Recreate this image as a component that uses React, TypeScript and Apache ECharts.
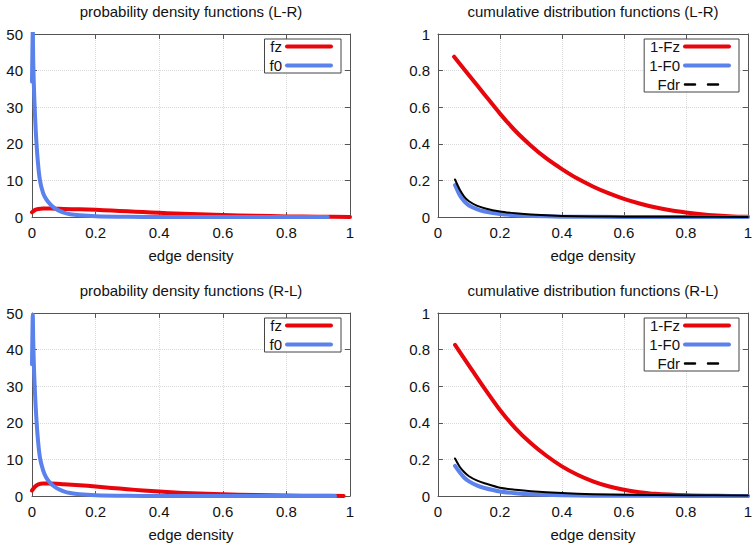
import React, { useEffect, useRef } from "react";
import * as echarts from "echarts";

// ---------- data ----------
const panelTitles = [
  "probability density functions (L-R)",
  "cumulative distribution functions (L-R)",
  "probability density functions (R-L)",
  "cumulative distribution functions (R-L)",
];
const xAxisName = "edge density";

// pdf (L-R)
const pdfLR_fz: number[][] = [
  [0, 1.3], [0.01, 1.95], [0.02, 2.2], [0.035, 2.3], [0.06, 2.3], [0.1, 2.2], [0.15, 2.1],
  [0.2, 1.95], [0.25, 1.75], [0.3, 1.55], [0.35, 1.35], [0.4, 1.15], [0.45, 0.95], [0.5, 0.8],
  [0.6, 0.52], [0.7, 0.32], [0.8, 0.17], [0.9, 0.07], [1.0, 0.02],
];
const pdfLR_f0: number[][] = [
  [0, 37], [0.0025, 51], [0.004, 42], [0.007, 33], [0.0115, 24], [0.018, 15.5], [0.025, 10],
  [0.035, 6.5], [0.045, 4.8], [0.057, 3.5], [0.07, 2.5], [0.083, 1.8], [0.1, 1.2], [0.12, 0.75],
  [0.15, 0.45], [0.2, 0.2], [0.3, 0.06], [0.4, 0.02], [0.6, 0.005], [0.93, 0],
];
// pdf (R-L)
const pdfRL_fz: number[][] = [
  [0, 1.5], [0.01, 2.6], [0.02, 3.2], [0.035, 3.4], [0.06, 3.4], [0.1, 3.2], [0.15, 2.95],
  [0.2, 2.6], [0.25, 2.2], [0.3, 1.85], [0.35, 1.5], [0.4, 1.2], [0.45, 0.95], [0.5, 0.75],
  [0.6, 0.45], [0.7, 0.27], [0.8, 0.14], [0.9, 0.06], [0.98, 0.02],
];
const pdfRL_f0: number[][] = [
  [0, 36], [0.0025, 49.5], [0.004, 42], [0.007, 33], [0.0115, 24.5], [0.018, 16], [0.025, 10.5],
  [0.035, 7], [0.045, 5], [0.057, 3.6], [0.07, 2.6], [0.083, 1.9], [0.1, 1.25], [0.12, 0.8],
  [0.15, 0.45], [0.2, 0.2], [0.3, 0.06], [0.4, 0.02], [0.6, 0.005], [0.953, 0],
];
// cdf (L-R)
const cdfLR_Fz: number[][] = [
  [0.052, 0.876], [0.1, 0.775], [0.15, 0.67], [0.2, 0.565], [0.25, 0.47], [0.3, 0.39],
  [0.35, 0.32], [0.4, 0.262], [0.45, 0.21], [0.5, 0.167], [0.55, 0.13], [0.6, 0.099],
  [0.65, 0.074], [0.7, 0.053], [0.75, 0.037], [0.8, 0.025], [0.85, 0.015], [0.9, 0.008],
  [0.95, 0.003], [1.0, 0.001],
];
const cdfLR_F0: number[][] = [
  [0.055, 0.175], [0.07, 0.12], [0.085, 0.085], [0.1, 0.063], [0.125, 0.043], [0.15, 0.03],
  [0.2, 0.017], [0.25, 0.01], [0.3, 0.006], [0.4, 0.002], [0.5, 0.001], [0.7, 0], [1.0, 0],
];
const cdfLR_Fdr: number[][] = [
  [0.055, 0.205], [0.07, 0.15], [0.085, 0.11], [0.1, 0.086], [0.125, 0.062], [0.15, 0.048],
  [0.2, 0.03], [0.25, 0.02], [0.3, 0.013], [0.4, 0.006], [0.5, 0.003], [0.6, 0.002],
  [0.8, 0.001], [1.0, 0.0005],
];
// cdf (R-L)
const cdfRL_Fz: number[][] = [
  [0.055, 0.826], [0.1, 0.713], [0.15, 0.588], [0.2, 0.47], [0.25, 0.37], [0.3, 0.288],
  [0.35, 0.22], [0.4, 0.162], [0.45, 0.116], [0.5, 0.08], [0.55, 0.053], [0.6, 0.034],
  [0.65, 0.021], [0.7, 0.012], [0.8, 0.004], [0.9, 0.001], [1.0, 0],
];
const cdfRL_F0: number[][] = [
  [0.055, 0.165], [0.07, 0.13], [0.085, 0.1], [0.1, 0.08], [0.125, 0.058], [0.15, 0.044],
  [0.2, 0.025], [0.25, 0.015], [0.3, 0.009], [0.4, 0.004], [0.5, 0.002], [0.7, 0.001], [1.0, 0],
];
const cdfRL_Fdr: number[][] = [
  [0.055, 0.205], [0.07, 0.16], [0.085, 0.13], [0.1, 0.108], [0.125, 0.085], [0.15, 0.07],
  [0.2, 0.045], [0.25, 0.034], [0.3, 0.026], [0.4, 0.016], [0.5, 0.01], [0.6, 0.007],
  [0.8, 0.004], [1.0, 0.003],
];

// ---------- styling ----------
const FONT = "Liberation Sans, Arial, Helvetica, sans-serif";
const RED = "#e8060c";
const BLUE = "#5b82ec";
const BLACK = "#000000";
const AXIS = "#555555";
const TXT = "#111111";
const GRIDLINE = "#d9d9d9";

const grids = [
  { left: 32, top: 34, width: 318, height: 183 },
  { left: 438, top: 34, width: 310, height: 183 },
  { left: 32, top: 313, width: 318, height: 183 },
  { left: 438, top: 313, width: 310, height: 183 },
];
const yRanges = [
  { max: 50, interval: 10, margin: 9 },
  { max: 1, interval: 0.2, margin: 8 },
  { max: 50, interval: 10, margin: 9 },
  { max: 1, interval: 0.2, margin: 8 },
];

function buildOption() {
  const xAxis: any[] = [];
  const yAxis: any[] = [];
  const axisLine = { show: true, onZero: false, lineStyle: { color: AXIS, width: 1 } };
  const axisTick = { show: true, inside: true, length: 5, lineStyle: { color: AXIS, width: 1 } };
  grids.forEach((g, i) => {
    xAxis.push(
      {
        type: "value", gridIndex: i, min: 0, max: 1, interval: 0.2, position: "bottom",
        axisLine, axisTick,
        axisLabel: { fontSize: 15, color: TXT, margin: 8, fontFamily: FONT },
        splitLine: { show: true, lineStyle: { color: GRIDLINE, type: "dotted", width: 1 } },
        name: xAxisName, nameLocation: "middle", nameGap: 31,
        nameTextStyle: { fontSize: 15, color: TXT, fontFamily: FONT },
      },
      {
        type: "value", gridIndex: i, min: 0, max: 1, interval: 0.2, position: "top",
        axisLine, axisTick, axisLabel: { show: false }, splitLine: { show: false },
      }
    );
    const r = yRanges[i];
    yAxis.push(
      {
        type: "value", gridIndex: i, min: 0, max: r.max, interval: r.interval, position: "left",
        axisLine, axisTick,
        axisLabel: { fontSize: 15, color: TXT, margin: r.margin, fontFamily: FONT },
        splitLine: { show: true, lineStyle: { color: GRIDLINE, type: "dotted", width: 1 } },
      },
      {
        type: "value", gridIndex: i, min: 0, max: r.max, interval: r.interval, position: "right",
        axisLine, axisTick, axisLabel: { show: false }, splitLine: { show: false },
      }
    );
  });

  const line = (name: string, data: number[][], panel: number, color: string, width: number, z: number) => ({
    type: "line", name, data, xAxisIndex: panel * 2, yAxisIndex: panel * 2,
    symbol: "none", showSymbol: false, smooth: 0.25, clip: true,
    lineStyle: { color, width, cap: "round", join: "round" }, itemStyle: { color }, z,
  });

  const series = [
    line("fz", pdfLR_fz, 0, RED, 4, 2),
    line("f0", pdfLR_f0, 0, BLUE, 4, 3),
    line("1-Fz", cdfLR_Fz, 1, RED, 4, 2),
    line("1-F0", cdfLR_F0, 1, BLUE, 4, 3),
    line("Fdr", cdfLR_Fdr, 1, BLACK, 2, 4),
    line("fz", pdfRL_fz, 2, RED, 4, 2),
    line("f0", pdfRL_f0, 2, BLUE, 4, 3),
    line("1-Fz", cdfRL_Fz, 3, RED, 4, 2),
    line("1-F0", cdfRL_F0, 3, BLUE, 4, 3),
    line("Fdr", cdfRL_Fdr, 3, BLACK, 2, 4),
  ];

  const title = panelTitles.map((t, i) => ({
    text: t,
    left: grids[i].left + grids[i].width / 2,
    top: i < 2 ? 4 : 283,
    textAlign: "center",
    padding: 0,
    textStyle: { fontSize: 15, fontWeight: "normal", color: TXT, fontFamily: FONT },
  }));

  const legendBase = {
    orient: "vertical", align: "right", itemWidth: 44, itemHeight: 12, itemGap: 4,
    padding: [0, 8, 0, 5], borderColor: "#444", borderWidth: 1, borderRadius: 0,
    backgroundColor: "#ffffff", selectedMode: false,
    itemStyle: { opacity: 0, borderWidth: 0 },
    textStyle: { fontSize: 15, color: TXT, fontFamily: FONT, lineHeight: 12 },
  };
  const pdfLegendData = [
    { name: "fz", lineStyle: { width: 4 } },
    { name: "f0", lineStyle: { width: 4 } },
  ];
  const cdfLegendData = [
    { name: "1-Fz", lineStyle: { width: 4 } },
    { name: "1-F0", lineStyle: { width: 4 } },
    { name: "Fdr", lineStyle: { width: 2.5, type: [10, 13] } },
  ];
  const legend = [
    { ...legendBase, right: 414, top: 39, data: pdfLegendData },
    { ...legendBase, right: 16, top: 39, data: cdfLegendData },
    { ...legendBase, right: 414, top: 318, data: pdfLegendData },
    { ...legendBase, right: 16, top: 318, data: cdfLegendData },
  ];

  return {
    animation: false,
    backgroundColor: "#ffffff",
    textStyle: { fontFamily: FONT },
    title,
    legend,
    grid: grids.map((g) => ({ ...g, containLabel: false })),
    xAxis,
    yAxis,
    series,
  };
}

export default function App() {
  const ref = useRef<HTMLDivElement>(null);
  useEffect(() => {
    if (!ref.current) return;
    const chart = echarts.init(ref.current, undefined, { renderer: "svg" });
    chart.setOption(buildOption() as any);
    return () => chart.dispose();
  }, []);
  return (
    <div
      ref={ref}
      style={{ position: "fixed", left: 0, top: 0, width: 755, height: 549, background: "#fff" }}
    />
  );
}
